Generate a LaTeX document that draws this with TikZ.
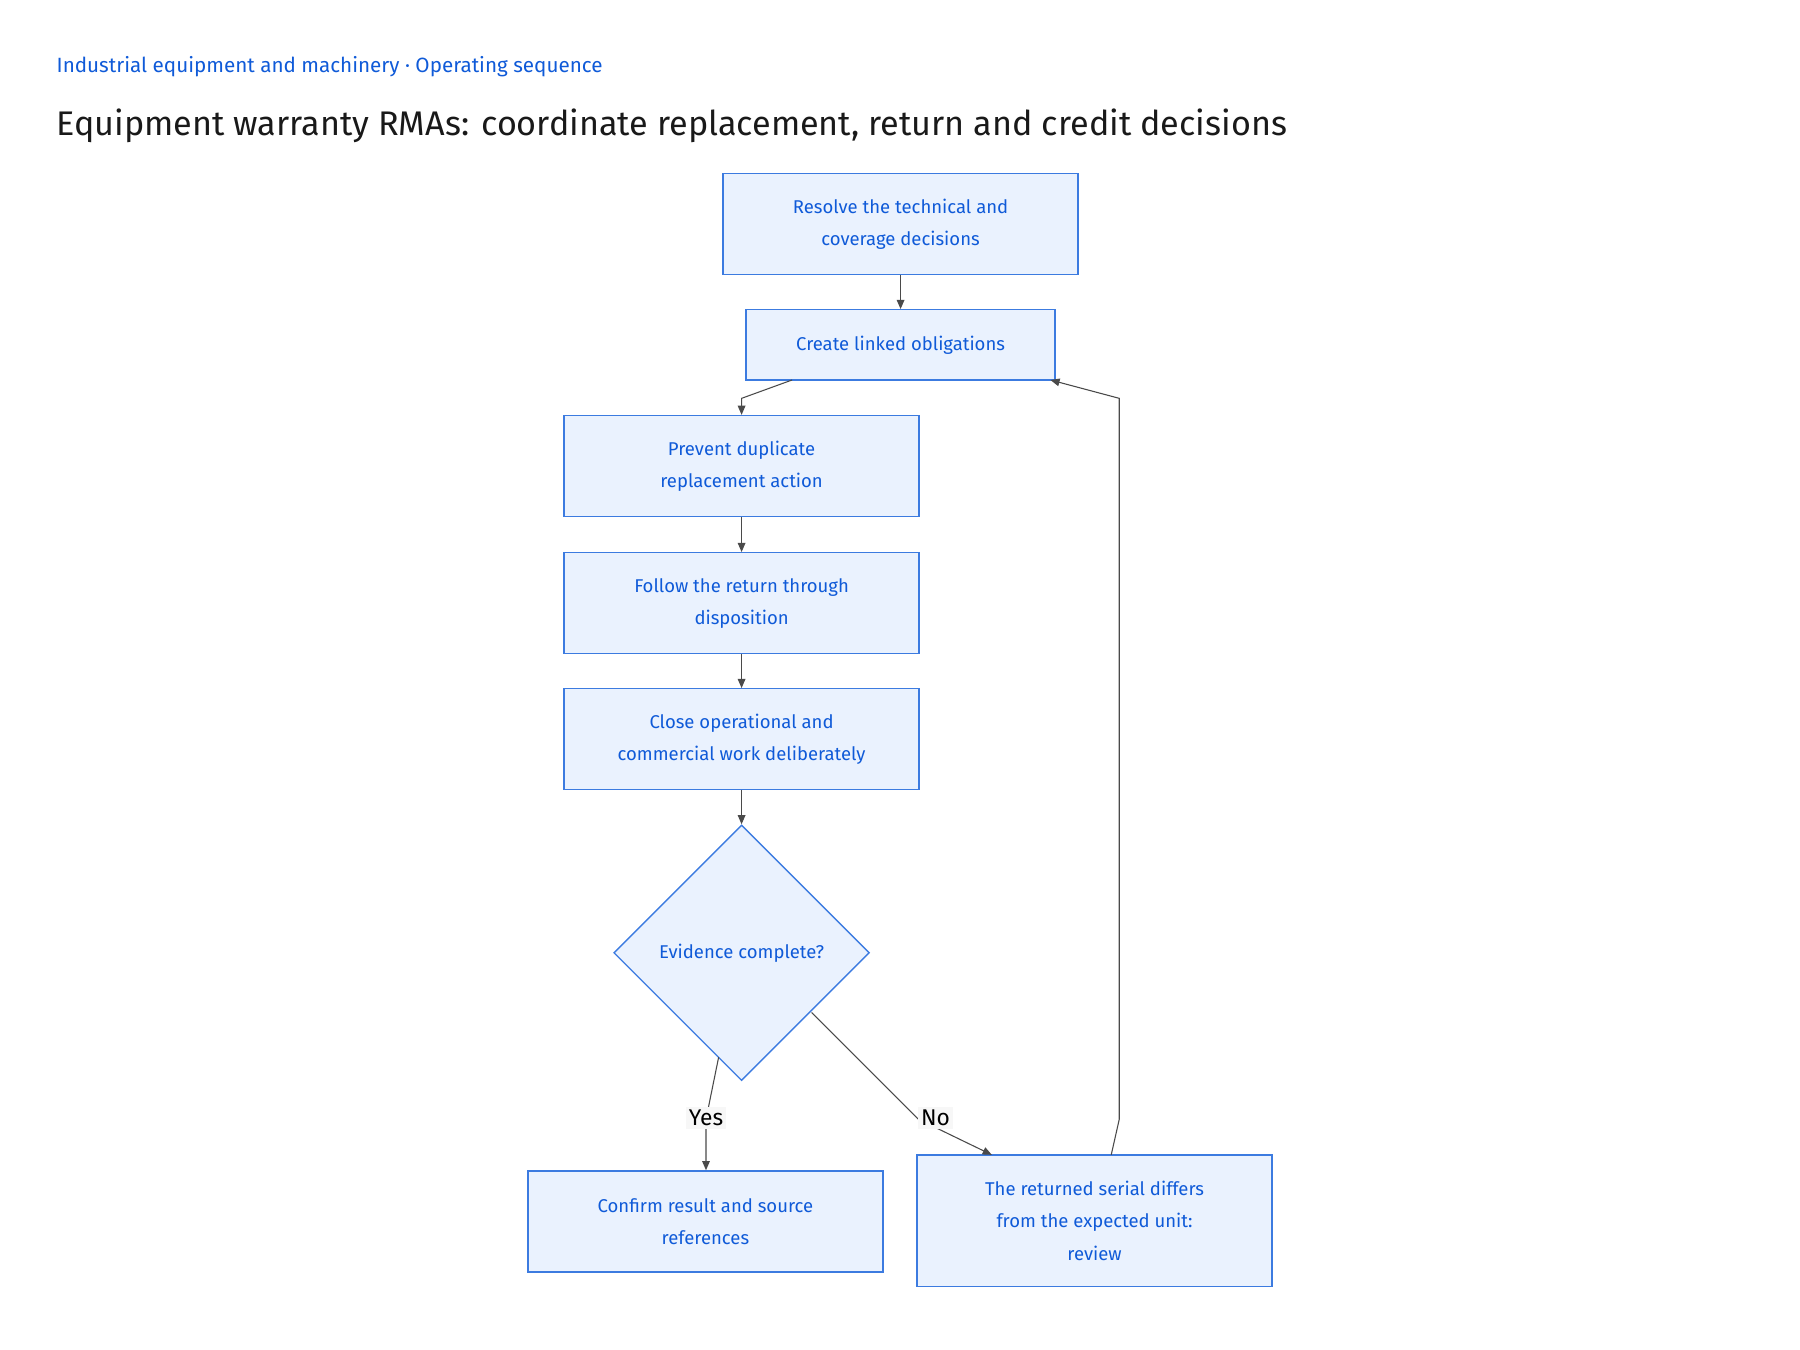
\documentclass[tikz,border=0pt]{standalone}
\usepackage{fontspec}
\setmainfont{Fira Sans}[Scale=0.93]
\usetikzlibrary{shapes.geometric,arrows.meta}
\definecolor{bfill}{HTML}{EAF2FE}
\definecolor{bline}{HTML}{3C7BE0}
\definecolor{btext}{HTML}{0F5AD8}
\definecolor{edge}{HTML}{4A4A4A}
\begin{document}
\begin{tikzpicture}[x=0.75pt,y=-0.75pt,
 box/.style={draw=bline,fill=bfill,line width=0.9pt,text=btext,align=center,font=\fontsize{13}{21}\selectfont,inner sep=0pt},
 dia/.style={diamond,draw=bline,fill=bfill,line width=0.9pt,text=btext,font=\fontsize{13}{21}\selectfont,inner sep=0pt,minimum width=167pt,minimum height=167pt},
 conn/.style={draw=edge,line width=0.7pt,-{Triangle[length=6pt,width=5pt]}},
 lab/.style={fill=gray!6,text=black,font=\fontsize{16}{18}\selectfont,inner sep=2pt}]
\useasboundingbox (0,0) rectangle (1568,1176);
\node[anchor=base west,text=btext,font=\fontsize{14.5}{16}\selectfont] (sub) at (45,63) {Industrial equipment and machinery · Operating sequence};
\node[anchor=base west,text=black!90,font=\fontsize{24}{28}\selectfont] (title) at (45,118) {Equipment warranty RMAs: coordinate replacement, return and credit decisions};
\node[box,minimum width=232pt,minimum height=66pt] (A) at (784.5,195) {Resolve the technical and\\coverage decisions};
\node[box,minimum width=202pt,minimum height=46pt] (B) at (784.5,300.5) {Create linked obligations};
\node[box,minimum width=232pt,minimum height=66pt] (C) at (646,406) {Prevent duplicate\\replacement action};
\node[box,minimum width=232pt,minimum height=66pt] (D) at (646,525.5) {Follow the return through\\disposition};
\node[box,minimum width=232pt,minimum height=66pt] (E) at (646,644) {Close operational and\\commercial work deliberately};
\node[dia] (Q) at (646,830) {Evidence complete?};
\node[box,minimum width=232pt,minimum height=66pt] (F) at (614.5,1064) {Confirm result and source\\references};
\node[box,minimum width=232pt,minimum height=86pt] (G) at (953.5,1063.5) {The returned serial differs\\from the expected unit:\\review};
\coordinate (b1) at (690,331); \coordinate (b2) at (646,347);
\coordinate (y1) at (626,921); \coordinate (y2) at (615,975);
\coordinate (n1) at (707,882); \coordinate (n2) at (800,975);
\coordinate (g1) at (968,1006); \coordinate (g2) at (975,975); \coordinate (g3) at (975,347); \coordinate (g4) at (915,331);
\draw[conn] (A) -- (B);
\draw[conn] (b1) -- (b2) -- (C.north);
\draw[conn] (C) -- (D);
\draw[conn] (D) -- (E);
\draw[conn] (E.south) -- (Q.north);
\draw[conn] (y1) -- (y2) -- (F.north -| y2);
\draw[conn] (n1) -- (n2) -- (864,1006);
\draw[conn] (g1) -- (g2) -- (g3) -- (g4);
\node[lab] (ly) at (615,974) {Yes};
\node[lab] (ln) at (815,974) {No};
\end{tikzpicture}
\end{document}
